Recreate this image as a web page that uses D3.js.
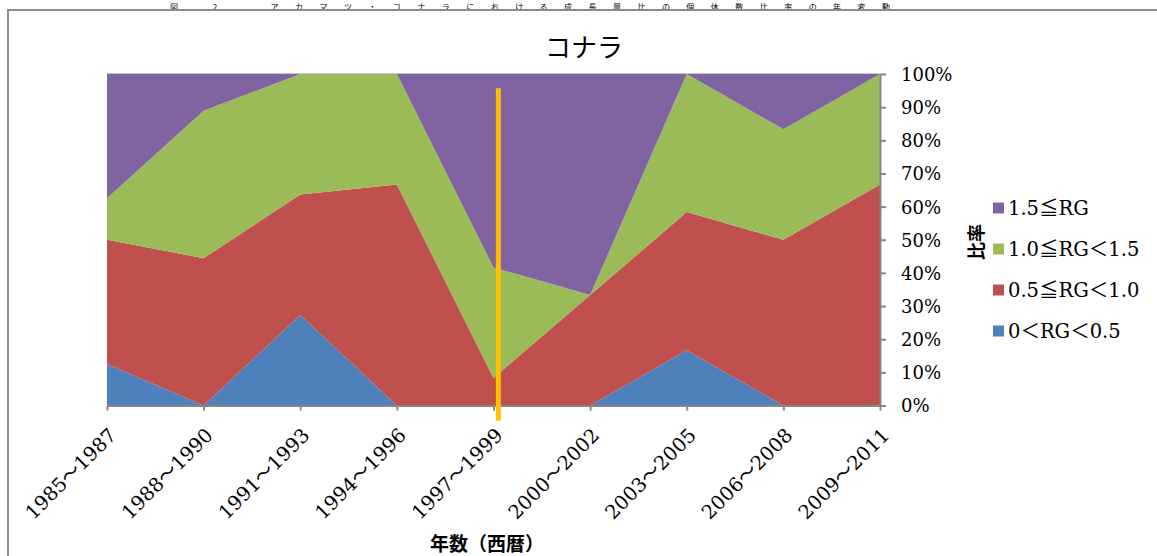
<!DOCTYPE html>
<html lang="ja">
<head>
<meta charset="utf-8">
<script src="https://cdn.jsdelivr.net/npm/d3@7/dist/d3.min.js"></script>
<style>
  html, body { margin: 0; padding: 0; background: #fff; }
  svg { display: block; }
  .serif { font-family: "DejaVu Serif", "Noto Sans CJK JP", serif; }
  .gothic { font-family: "Noto Sans CJK JP", sans-serif; }
</style>
</head>
<body>
<svg id="chart" width="1157" height="556"></svg>
<script>
// 3-year periods
const periods = ["1985～1987", "1988～1990", "1991～1993", "1994～1996", "1997～1999",
                 "2000～2002", "2003～2005", "2006～2008", "2009～2011"];

// share of trees (%) in each growth-ratio (RG) class per period
const rgBelow05   = [12.5, 0, 27.3, 0, 0, 0, 16.7, 0, 0];
const rg05to10    = [37.5, 44.4, 36.4, 66.7, 8.3, 33.3, 41.7, 50, 66.7];
const rg10to15    = [12.5, 44.4, 36.4, 33.3, 33.3, 0, 41.7, 33.3, 33.3];
const rgAbove15   = [37.5, 11.1, 0, 0, 58.3, 66.7, 0, 16.7, 0];

const seriesNames = ["0＜RG＜0.5", "0.5≦RG＜1.0", "1.0≦RG＜1.5", "1.5≦RG"];
const seriesColors = ["#4F81BD", "#C0504D", "#9BBB59", "#8064A2"];
const yTicks = [0, 0.1, 0.2, 0.3, 0.4, 0.5, 0.6, 0.7, 0.8, 0.9, 1.0];

const svg = d3.select("#chart");

// figure caption above the frame
svg.append("text")
  .attr("class", "gothic")
  .attr("x", 170).attr("y", 9.6)
  .attr("font-size", 8)
  .attr("textLength", 720)
  .attr("lengthAdjust", "spacing")
  .attr("fill", "#000")
  .text("図 2. アカマツ・コナラにおける成長量比の個体数比率の年変動");

svg.append("rect")
  .attr("x", 8).attr("y", 10)
  .attr("width", 1300).attr("height", 700)
  .attr("fill", "none")
  .attr("stroke", "#8c8c8c")
  .attr("stroke-width", 2);

const plot = { left: 107, right: 880, top: 74, bottom: 405.5 };

const x = d3.scalePoint().domain(periods).range([plot.left, plot.right]);
const y = d3.scaleLinear().domain([0, 1]).range([plot.bottom, plot.top]);

const rows = periods.map((p, i) => ({
  period: p,
  s0: rgBelow05[i], s1: rg05to10[i], s2: rg10to15[i], s3: rgAbove15[i]
}));
const keys = ["s0", "s1", "s2", "s3"];

const stacked = d3.stack()
  .keys(keys)
  .offset(d3.stackOffsetExpand)(rows);

const area = d3.area()
  .x(d => x(d.data.period))
  .y0(d => y(d[0]))
  .y1(d => y(d[1]));

// plot area top edge
svg.append("line")
  .attr("x1", plot.left).attr("x2", plot.right)
  .attr("y1", plot.top - 0.5).attr("y2", plot.top - 0.5)
  .attr("stroke", "#c8c8c8").attr("stroke-width", 1);

svg.append("g")
  .selectAll("path")
  .data(stacked)
  .join("path")
  .attr("d", area)
  .attr("fill", (d, i) => seriesColors[i]);

// category axis
const xAxis = svg.append("g")
  .attr("transform", `translate(0,${plot.bottom})`)
  .call(d3.axisBottom(x).tickSizeInner(5).tickSizeOuter(0));
xAxis.select(".domain").attr("stroke", "#868686").attr("stroke-width", 2);
xAxis.selectAll(".tick line").attr("stroke", "#868686").attr("stroke-width", 2);
xAxis.selectAll(".tick text")
  .attr("class", "serif")
  .attr("font-size", 19.5)
  .attr("fill", "#000")
  .attr("text-anchor", "end")
  .attr("x", 0).attr("y", 0)
  .attr("dy", "0.72em")
  .attr("transform", "translate(0,21) rotate(-45)");

// value axis on the right
const yAxis = svg.append("g")
  .attr("transform", `translate(${plot.right},0)`)
  .call(d3.axisRight(y).tickValues(yTicks).tickFormat(d3.format(".0%"))
    .tickSizeInner(6).tickSizeOuter(0).tickPadding(15));
yAxis.select(".domain").attr("stroke", "#868686").attr("stroke-width", 2);
yAxis.selectAll(".tick line").attr("stroke", "#868686").attr("stroke-width", 2);
yAxis.selectAll(".tick text")
  .attr("class", "serif")
  .attr("font-size", 18)
  .attr("fill", "#000")
  .attr("dy", "0.36em");

// axis titles
svg.append("text")
  .attr("class", "gothic")
  .attr("transform", "translate(983,242) rotate(-90)")
  .attr("text-anchor", "middle")
  .attr("font-size", 18)
  .attr("font-weight", "bold")
  .text("比率");

svg.append("text")
  .attr("class", "gothic")
  .attr("x", 487).attr("y", 551)
  .attr("text-anchor", "middle")
  .attr("font-size", 19)
  .attr("font-weight", "bold")
  .text("年数（西暦）");

// chart title
svg.append("text")
  .attr("class", "gothic")
  .attr("x", 584).attr("y", 57)
  .attr("text-anchor", "middle")
  .attr("font-size", 26)
  .text("コナラ");

// legend (top series first)
const legend = svg.append("g").attr("transform", "translate(993,208)");
const order = [3, 2, 1, 0];
order.forEach((si, row) => {
  const g = legend.append("g").attr("transform", `translate(0,${row * 41})`);
  g.append("rect")
    .attr("x", 0).attr("y", -5.5)
    .attr("width", 11).attr("height", 11)
    .attr("fill", seriesColors[si]);
  g.append("text")
    .attr("class", "serif")
    .attr("x", 15).attr("y", 0)
    .attr("dy", "0.36em")
    .attr("font-size", 19.5)
    .attr("fill", "#000")
    .text(seriesNames[si]);
});

// orange reference marker just after 1997～1999
const marker = { at: 4.05, from: -0.046, to: 0.957 };
const step = x.step();
svg.append("line")
  .attr("x1", plot.left + marker.at * step)
  .attr("x2", plot.left + marker.at * step)
  .attr("y1", y(marker.from)).attr("y2", y(marker.to))
  .attr("stroke", "#FFC000")
  .attr("stroke-width", 5);
</script>
</body>
</html>
